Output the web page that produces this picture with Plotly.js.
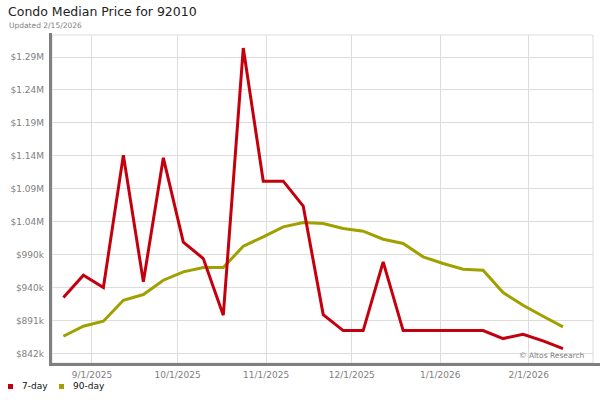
<!DOCTYPE html>
<html>
<head>
<meta charset="utf-8">
<script src="https://cdn.plot.ly/plotly-3.0.1.min.js"></script>
<style>html,body{margin:0;padding:0;background:#fff;}#chart{width:600px;height:400px;}</style>
</head>
<body>
<div id="chart"></div>
<script>
const dates = ['2025-08-22','2025-08-29','2025-09-05','2025-09-12','2025-09-19','2025-09-26','2025-10-03','2025-10-10','2025-10-17','2025-10-24','2025-10-31','2025-11-07','2025-11-14','2025-11-21','2025-11-28','2025-12-05','2025-12-12','2025-12-19','2025-12-26','2026-01-02','2026-01-09','2026-01-16','2026-01-23','2026-01-30','2026-02-06','2026-02-13'];
const sevenDay = [926000,959500,941000,1139500,949500,1135500,1009000,984500,899500,1300000,1100500,1100500,1063000,900500,876500,876500,979500,876500,876500,876500,876500,876500,864500,871000,861000,849500];
const ninetyDay = [868000,883000,890500,922000,930500,952000,964500,971000,971000,1003000,1017000,1032000,1038500,1037000,1029500,1025500,1013500,1007000,987000,977000,968500,967000,933500,914500,898000,882000];
const yTickVals = [842000,891400,940800,990200,1039600,1089000,1138400,1187800,1237200,1286600];
const yTickText = ['$842k','$891k','$940k','$990k','$1.04M','$1.09M','$1.14M','$1.19M','$1.24M','$1.29M'];
const xTickVals = ['2025-09-01','2025-10-01','2025-11-01','2025-12-01','2026-01-01','2026-02-01'];
const xTickText = ['9/1/2025','10/1/2025','11/1/2025','12/1/2025','1/1/2026','2/1/2026'];
const seriesNames = ['7-day','90-day'];
const colors = ['#c4000e','#a0a000'];

const FONT = 'DejaVu Sans, sans-serif';
const traces = [
  {x: dates, y: ninetyDay, type:'scatter', mode:'lines', name: seriesNames[1], line:{color:colors[1], width:3}, showlegend:false, hoverinfo:'skip'},
  {x: dates, y: sevenDay, type:'scatter', mode:'lines', name: seriesNames[0], line:{color:colors[0], width:3}, showlegend:false, hoverinfo:'skip'}
];
const W = 541, H = 328;
const layout = {
  width:600, height:400,
  margin:{l:52, r:7, t:35, b:37},
  paper_bgcolor:'#fff', plot_bgcolor:'#fff',
  font:{family:FONT, size:9, color:'#808080'},
  showlegend:false,
  xaxis:{type:'date', range:['2025-08-18','2026-02-23 12:00'], tickvals:xTickVals, ticktext:xTickText,
    showgrid:true, gridcolor:'#dddddd', gridwidth:1, zeroline:false, showline:false, ticks:'',
    tickfont:{family:FONT, size:9, color:'#808080'}, ticklabelstandoff:5},
  yaxis:{range:[827900,1319600], tickvals:yTickVals, ticktext:yTickText,
    showgrid:true, gridcolor:'#dddddd', gridwidth:1, zeroline:false, showline:false, ticks:'',
    tickfont:{family:FONT, size:9, color:'#808080'}, ticklabelstandoff:7},
  shapes:[
    {type:'rect', xref:'paper', yref:'paper', x0:0, x1:1, y0:0, y1:1, line:{color:'#dddddd', width:1}},
    {type:'line', xref:'paper', yref:'paper', x0:-1.5/W, x1:-1.5/W, y0:-3/H, y1:1.006, line:{color:'#808080', width:3}},
    {type:'line', xref:'paper', yref:'paper', x0:-3/W, x1:548/W, y0:-1.5/H, y1:-1.5/H, line:{color:'#808080', width:3}},
    {type:'rect', xref:'paper', yref:'paper', x0:-44/W, x1:-39/W, y0:-26/H, y1:-21/H, fillcolor:colors[0], line:{width:0}},
    {type:'rect', xref:'paper', yref:'paper', x0:7/W, x1:12/W, y0:-26/H, y1:-21/H, fillcolor:colors[1], line:{width:0}}
  ],
  annotations:[
    {text:'Condo Median Price for 92010', xref:'paper', yref:'paper', x:-46/W, y:1+33/H, xanchor:'left', yanchor:'top', showarrow:false, font:{family:FONT, size:12.5, color:'#222'}},
    {text:'Updated 2/15/2026', xref:'paper', yref:'paper', x:-45/W, y:1+16/H, xanchor:'left', yanchor:'top', showarrow:false, font:{family:FONT, size:7.5, color:'#808080'}},
    {text:'© Altos Research', xref:'paper', yref:'paper', x:535/W, y:8/H, xanchor:'right', yanchor:'middle', showarrow:false, font:{family:FONT, size:7.5, color:'#808080'}},
    {text:seriesNames[0], xref:'paper', yref:'paper', x:-32/W, y:-23.5/H, xanchor:'left', yanchor:'middle', showarrow:false, font:{family:FONT, size:9, color:'#111'}},
    {text:seriesNames[1], xref:'paper', yref:'paper', x:19/W, y:-23.5/H, xanchor:'left', yanchor:'middle', showarrow:false, font:{family:FONT, size:9, color:'#111'}}
  ]
};
Plotly.newPlot('chart', traces, layout, {staticPlot:true, displayModeBar:false});
</script>
</body>
</html>
